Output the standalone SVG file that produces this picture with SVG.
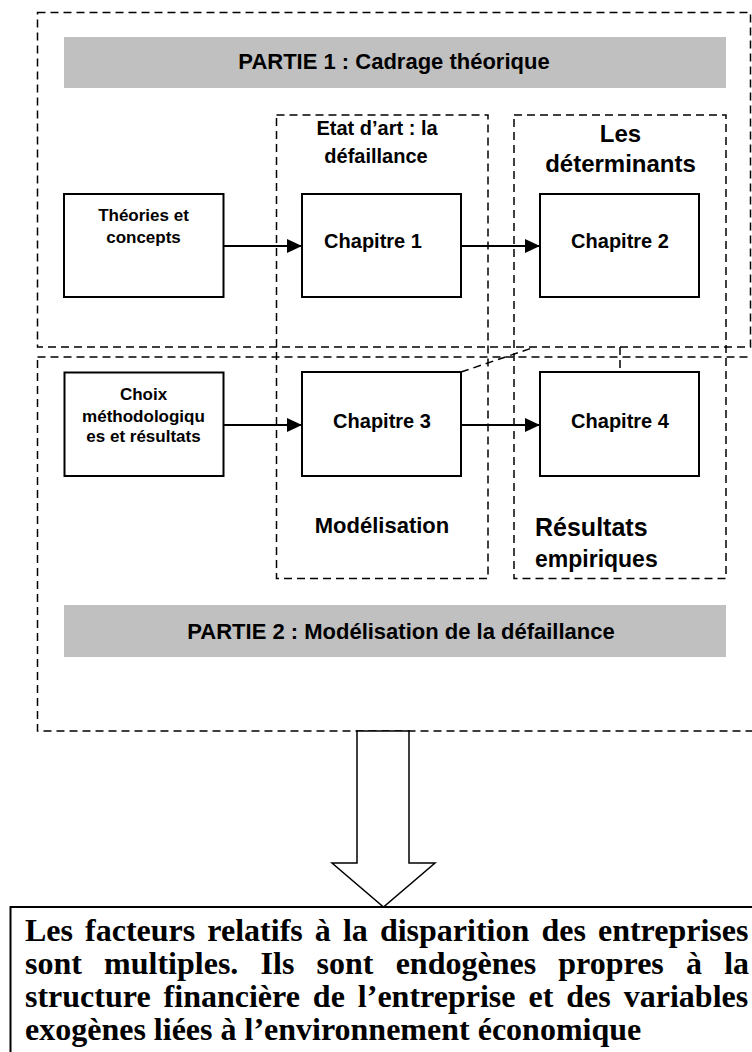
<svg xmlns="http://www.w3.org/2000/svg" width="752" height="1052" viewBox="0 0 752 1052">
<style>
.dash{fill:none;stroke:#000;stroke-width:1.5;stroke-dasharray:8 5}
.box{fill:#fff;stroke:#000;stroke-width:2}
.bar{fill:#c0c0c0}
.sans{font-family:"Liberation Sans",Arial,sans-serif;font-weight:bold;fill:#000}
.serif{font-family:"Liberation Serif","Times New Roman",serif;font-weight:bold;fill:#000;font-size:32px}
.conn{stroke:#000;stroke-width:2;fill:none}
.dconn{stroke:#000;stroke-width:1.5;fill:none;stroke-dasharray:8 5}
</style>
<defs>
<marker id="ah" markerWidth="15" markerHeight="14" refX="15" refY="7" orient="auto" markerUnits="userSpaceOnUse"><path d="M0,0 L15,7 L0,14 Z" fill="#000"/></marker>
</defs>
<rect x="0" y="0" width="752" height="1052" fill="#fff"/>

<g id="partie1">
<rect class="dash" x="37.5" y="12.5" width="713" height="334.5"/>
<rect class="bar" x="64" y="37" width="662" height="51"/>
<text class="sans" x="394" y="69" font-size="22" text-anchor="middle">PARTIE 1 : Cadrage théorique</text>
</g>

<g id="partie2">
<rect class="dash" x="37.5" y="357" width="730" height="374"/>
<rect class="bar" x="64" y="605" width="662" height="52"/>
<text class="sans" x="401" y="639" font-size="22" text-anchor="middle">PARTIE 2 : Modélisation de la défaillance</text>
</g>

<g id="etat-art">
<rect class="dash" x="276.5" y="115" width="211.5" height="463.5"/>
<text class="sans" x="377" y="135" font-size="20" text-anchor="middle">Etat d’art : la</text>
<text class="sans" x="376" y="163" font-size="20" text-anchor="middle">défaillance</text>
<text class="sans" x="382" y="533" font-size="22" text-anchor="middle">Modélisation</text>
</g>

<g id="determinants">
<rect class="dash" x="514" y="115" width="212" height="463.5"/>
<text class="sans" x="620.5" y="142" font-size="24" text-anchor="middle">Les</text>
<text class="sans" x="620.5" y="172" font-size="24" text-anchor="middle">déterminants</text>
<text class="sans" x="535" y="536" font-size="25">Résultats</text>
<text class="sans" x="535" y="567" font-size="23">empiriques</text>
</g>

<g id="theories">
<rect class="box" x="64" y="194" width="159.5" height="103"/>
<text class="sans" x="143.5" y="221" font-size="17" text-anchor="middle">Théories et</text>
<text class="sans" x="143.5" y="243" font-size="17" text-anchor="middle">concepts</text>
</g>

<g id="chapitre1">
<rect class="box" x="302" y="194" width="159" height="103"/>
<text class="sans" x="373" y="248" font-size="20" text-anchor="middle">Chapitre 1</text>
</g>

<g id="chapitre2">
<rect class="box" x="540" y="194" width="159" height="103"/>
<text class="sans" x="620" y="248" font-size="20" text-anchor="middle">Chapitre 2</text>
</g>

<g id="choix">
<rect class="box" x="64.5" y="372.5" width="159" height="103.5"/>
<text class="sans" x="143.5" y="400" font-size="17" text-anchor="middle">Choix</text>
<text class="sans" x="143.5" y="421.5" font-size="17" text-anchor="middle">méthodologiqu</text>
<text class="sans" x="143.5" y="442" font-size="17" text-anchor="middle">es et résultats</text>
</g>

<g id="chapitre3">
<rect class="box" x="302" y="372" width="159" height="104"/>
<text class="sans" x="382" y="428" font-size="20" text-anchor="middle">Chapitre 3</text>
</g>

<g id="chapitre4">
<rect class="box" x="540" y="372" width="159" height="104"/>
<text class="sans" x="620" y="428" font-size="20" text-anchor="middle">Chapitre 4</text>
</g>

<g id="connectors">
<line class="conn" x1="224" y1="246" x2="302" y2="246" marker-end="url(#ah)"/>
<line class="conn" x1="461" y1="246" x2="540" y2="246" marker-end="url(#ah)"/>
<line class="conn" x1="224" y1="425" x2="302" y2="425" marker-end="url(#ah)"/>
<line class="conn" x1="461" y1="425" x2="540" y2="425" marker-end="url(#ah)"/>
<line class="dconn" x1="461" y1="372" x2="535" y2="347"/>
<line class="dconn" x1="620" y1="347" x2="620" y2="372"/>
</g>

<g id="big-arrow">
<polygon points="357,731 409,731 409,863 435,863 383.5,907 332,863 357,863" fill="#fff" stroke="#000" stroke-width="1.5"/>
</g>

<g id="conclusion">
<rect x="10.5" y="907" width="760" height="160" fill="#fff" stroke="#000" stroke-width="2"/>
<text class="serif" x="25" y="941" word-spacing="4.1">Les facteurs relatifs à la disparition des entreprises</text>
<text class="serif" x="25" y="974" word-spacing="14.2">sont multiples. Ils sont endogènes propres à la</text>
<text class="serif" x="25" y="1007" word-spacing="5">structure financière de l’entreprise et des variables</text>
<text class="serif" x="25" y="1040">exogènes liées à l’environnement économique</text>
</g>
</svg>
